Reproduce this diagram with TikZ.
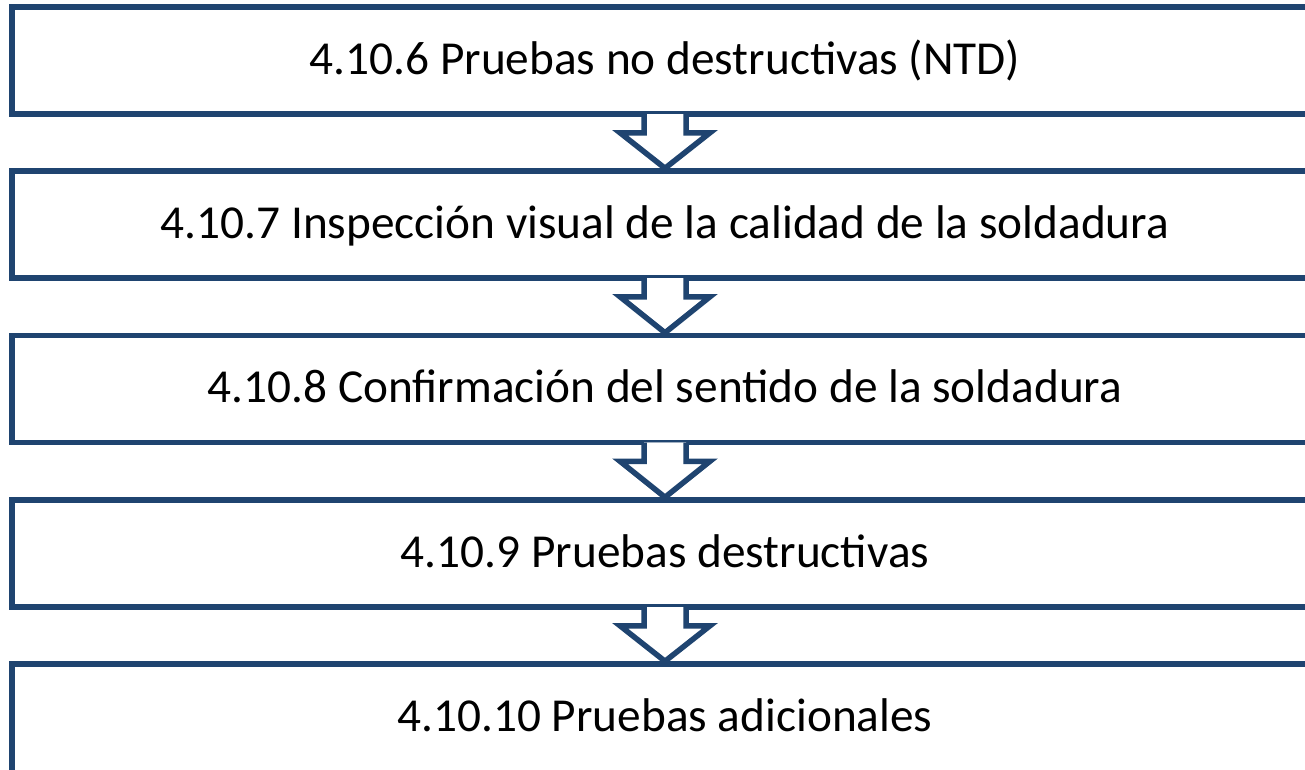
\documentclass[tikz,border=0pt]{standalone}
\usepackage{fontspec}
\setmainfont{Carlito}
\definecolor{azul}{RGB}{31,68,112}
\begin{document}
\begin{tikzpicture}[x=1pt,y=-1pt,
  caja/.style={draw=azul,line width=5.5pt,fill=white,minimum width=1306pt,minimum height=107pt,
    text height=34pt,text depth=7pt,font=\fontsize{47.3}{57}\selectfont},
  flecha/.style={draw=azul,line width=5.5pt,fill=white}]
\useasboundingbox (0,0) rectangle (1305,769);
\clip (0,0) rectangle (1305,769);

\node[caja] (b1) at (665,60.5) {4.10.6 Pruebas no destructivas (NTD)};
\node[caja] (b2) at (665,224.5) {4.10.7 Inspección visual de la calidad de la soldadura};
\node[caja] (b3) at (665,389) {4.10.8 Confirmación del sentido de la soldadura};
\node[caja] (b4) at (665,553.5) {4.10.9 Pruebas destructivas};
\node[caja,minimum height=127pt,text depth=27pt] (b5) at (665,727.5) {4.10.10 Pruebas adicionales};

\fill[white] ([xshift=-21pt,yshift=2.75pt]b1.south) -- ([xshift=-21pt,yshift=-16pt]b1.south) -- ([xshift=-45pt,yshift=-16pt]b1.south) -- (b2.north) -- ([xshift=45pt,yshift=-16pt]b1.south) -- ([xshift=21pt,yshift=-16pt]b1.south) -- ([xshift=21pt,yshift=2.75pt]b1.south) -- cycle;
\draw[flecha] ([xshift=-21pt,yshift=2.75pt]b1.south) -- ([xshift=-21pt,yshift=-16pt]b1.south) -- ([xshift=-45pt,yshift=-16pt]b1.south) -- (b2.north) -- ([xshift=45pt,yshift=-16pt]b1.south) -- ([xshift=21pt,yshift=-16pt]b1.south) -- ([xshift=21pt,yshift=2.75pt]b1.south);

\fill[white] ([xshift=-21pt,yshift=2.75pt]b2.south) -- ([xshift=-21pt,yshift=-16pt]b2.south) -- ([xshift=-45pt,yshift=-16pt]b2.south) -- (b3.north) -- ([xshift=45pt,yshift=-16pt]b2.south) -- ([xshift=21pt,yshift=-16pt]b2.south) -- ([xshift=21pt,yshift=2.75pt]b2.south) -- cycle;
\draw[flecha] ([xshift=-21pt,yshift=2.75pt]b2.south) -- ([xshift=-21pt,yshift=-16pt]b2.south) -- ([xshift=-45pt,yshift=-16pt]b2.south) -- (b3.north) -- ([xshift=45pt,yshift=-16pt]b2.south) -- ([xshift=21pt,yshift=-16pt]b2.south) -- ([xshift=21pt,yshift=2.75pt]b2.south);

\fill[white] ([xshift=-21pt,yshift=2.75pt]b3.south) -- ([xshift=-21pt,yshift=-16pt]b3.south) -- ([xshift=-45pt,yshift=-16pt]b3.south) -- (b4.north) -- ([xshift=45pt,yshift=-16pt]b3.south) -- ([xshift=21pt,yshift=-16pt]b3.south) -- ([xshift=21pt,yshift=2.75pt]b3.south) -- cycle;
\draw[flecha] ([xshift=-21pt,yshift=2.75pt]b3.south) -- ([xshift=-21pt,yshift=-16pt]b3.south) -- ([xshift=-45pt,yshift=-16pt]b3.south) -- (b4.north) -- ([xshift=45pt,yshift=-16pt]b3.south) -- ([xshift=21pt,yshift=-16pt]b3.south) -- ([xshift=21pt,yshift=2.75pt]b3.south);

\fill[white] ([xshift=-21pt,yshift=2.75pt]b4.south) -- ([xshift=-21pt,yshift=-16pt]b4.south) -- ([xshift=-45pt,yshift=-16pt]b4.south) -- (b5.north) -- ([xshift=45pt,yshift=-16pt]b4.south) -- ([xshift=21pt,yshift=-16pt]b4.south) -- ([xshift=21pt,yshift=2.75pt]b4.south) -- cycle;
\draw[flecha] ([xshift=-21pt,yshift=2.75pt]b4.south) -- ([xshift=-21pt,yshift=-16pt]b4.south) -- ([xshift=-45pt,yshift=-16pt]b4.south) -- (b5.north) -- ([xshift=45pt,yshift=-16pt]b4.south) -- ([xshift=21pt,yshift=-16pt]b4.south) -- ([xshift=21pt,yshift=2.75pt]b4.south);

\end{tikzpicture}
\end{document}
